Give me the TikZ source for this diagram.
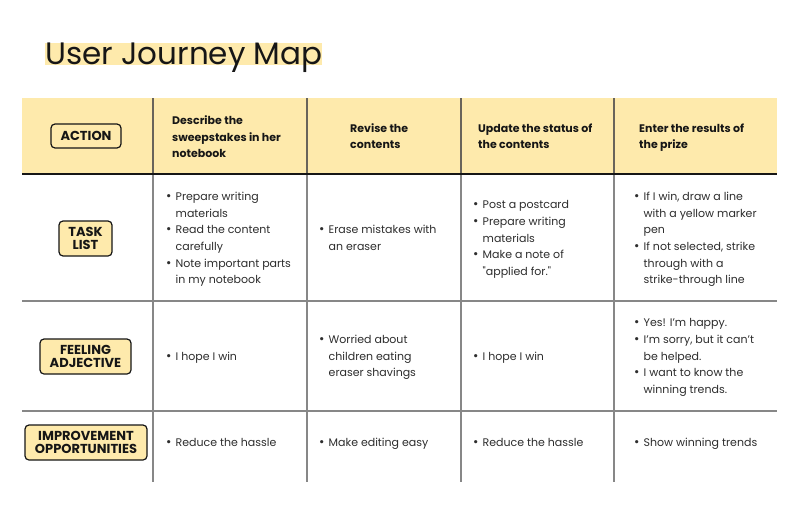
\documentclass[tikz,border=0pt]{standalone}
\usepackage{fontspec}
\setmainfont{Poppins}
\newfontfamily\qfont{Poppins}
\definecolor{hdr}{RGB}{254,234,172}
\definecolor{ink}{RGB}{22,22,22}
\definecolor{body}{RGB}{45,45,45}
\definecolor{gridc}{RGB}{135,135,135}
\definecolor{gridd}{RGB}{105,100,90}
\newcommand{\bl}[1]{\makebox[9.5pt][l]{\fontsize{13}{13}\selectfont•}#1}
\newcommand{\cl}[1]{\hspace{9.5pt}#1}
\newcommand{\sq}{{\qfont"}}
\tikzset{
  lab/.style={draw=ink, line width=1.2pt, rounded corners=4pt, fill=hdr, text=ink,
    font=\fontsize{13}{13.3}\selectfont\bfseries, align=center, inner sep=0pt},
  hd/.style={anchor=base west, align=left, inner sep=0pt, text=ink,
    font=\fontsize{11}{16.7}\selectfont\bfseries},
  bd/.style={anchor=base west, align=left, inner sep=0pt, text=body,
    font=\fontsize{11}{16.7}\selectfont},
  gridline/.style={draw=gridc, line width=1.3pt},
}
\begin{document}
\begin{tikzpicture}[x=1pt,y=-1pt]
\useasboundingbox (0,0) rectangle (800,527);
\fill[white] (0,0) rectangle (800,527);
% title
\fill[hdr] (45,43) rectangle (322,65);
\node[anchor=base west, inner sep=0pt, text=ink, font=\fontsize{31}{31}\selectfont] (title) at (45,65) {User Journey Map};
% header band
\fill[hdr] (22,98) rectangle (777,174);
% grid
\foreach \x in {153,307,461,614} {
  \draw[gridline] (\x,174) -- (\x,482);
  \draw[gridline, draw=gridd] (\x,98) -- (\x,174);
}
\draw[gridline] (22,301) -- (777,301);
\draw[gridline] (22,411) -- (777,411);
\draw[draw=ink, line width=1.4pt] (22,174) -- (777,174);
% row labels
\node[lab, minimum width=70pt, minimum height=24pt] (action) at (86,136) {ACTION};
\node[lab, minimum width=53pt, minimum height=35pt] (task) at (85.5,238.5) {TASK\\LIST};
\node[lab, minimum width=91pt, minimum height=35pt] (feel) at (85.5,356.5) {FEELING\\ADJECTIVE};
\node[lab, minimum width=122pt, minimum height=35pt] (impr) at (86,442.5) {IMPROVEMENT\\OPPORTUNITIES};
% header cells (anchored at the baseline of the last line)
\node[hd] (h1) at (172,157.7) {Describe the\\sweepstakes in her\\notebook};
\node[hd] (h2) at (350,148.9) {Revise the\\contents};
\node[hd] (h3) at (478,148.9) {Update the status of\\the contents};
\node[hd] (h4) at (639,148.9) {Enter the results of\\the prize};
% task row
\node[bd] (t1) at (166,283.8) {\bl{Prepare writing}\\\cl{materials}\\\bl{Read the content}\\\cl{carefully}\\\bl{Note important parts}\\\cl{in my notebook}};
\node[bd] (t2) at (319,250.4) {\bl{Erase mistakes with}\\\cl{an eraser}};
\node[bd] (t3) at (473,275.4) {\bl{Post a postcard}\\\bl{Prepare writing}\\\cl{materials}\\\bl{Make a note of}\\\cl{\sq applied for.\sq}};
\node[bd] (t4) at (634,283.8) {\bl{If I win, draw a line}\\\cl{with a yellow marker}\\\cl{pen}\\\bl{If not selected, strike}\\\cl{through with a}\\\cl{strike-through line}};
% feeling row
\node[bd] (f1) at (166,360) {\bl{I hope I win}};
\node[bd] (f2) at (319,376.7) {\bl{Worried about}\\\cl{children eating}\\\cl{eraser shavings}};
\node[bd] (f3) at (473,360) {\bl{I hope I win}};
\node[bd] (f4) at (634,393.4) {\bl{Yes! I’m happy.}\\\bl{I’m sorry, but it can’t}\\\cl{be helped.}\\\bl{I want to know the}\\\cl{winning trends.}};
% improvement row
\node[bd] (i1) at (166,446.5) {\bl{Reduce the hassle}};
\node[bd] (i2) at (319,446.5) {\bl{Make editing easy}};
\node[bd] (i3) at (473,446.5) {\bl{Reduce the hassle}};
\node[bd] (i4) at (634,446.5) {\bl{Show winning trends}};
\end{tikzpicture}
\end{document}
